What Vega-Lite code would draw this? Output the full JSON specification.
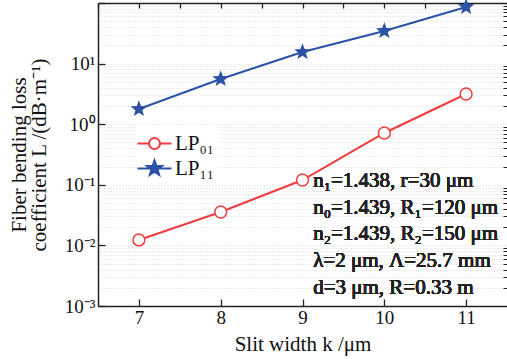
{
  "$schema": "https://vega.github.io/schema/vega-lite/v6.json",
  "width": 409,
  "height": 303,
  "autosize": "none",
  "padding": {"left": 98, "top": 3, "right": 0, "bottom": 53},
  "background": "white",
  "data": {
    "values": [
      {"k": 7, "L": 0.0123, "mode": "LP₀₁"},
      {"k": 8, "L": 0.0356, "mode": "LP₀₁"},
      {"k": 9, "L": 0.12, "mode": "LP₀₁"},
      {"k": 10, "L": 0.716, "mode": "LP₀₁"},
      {"k": 11, "L": 3.15, "mode": "LP₀₁"},
      {"k": 7, "L": 1.78, "mode": "LP₁₁"},
      {"k": 8, "L": 5.57, "mode": "LP₁₁"},
      {"k": 9, "L": 15.5, "mode": "LP₁₁"},
      {"k": 10, "L": 34.5, "mode": "LP₁₁"},
      {"k": 11, "L": 86, "mode": "LP₁₁"}
    ]
  },
  "layer": [
    {
      "mark": {"type": "line", "strokeWidth": 2},
      "encoding": {
        "x": {
          "field": "k", "type": "quantitative",
          "scale": {"domain": [6.5, 11.5], "nice": false, "zero": false},
          "axis": {
            "values": [7, 8, 9, 10, 11],
            "tickSize": -7, "tickWidth": 1.3, "labelPadding": 9, "labelFontSize": 19,
            "title": "Slit width k /μm", "titleFontSize": 21, "titleFontWeight": "normal",
            "titlePadding": 6, "grid": false, "domainWidth": 1.5, "labelFlush": false
          }
        },
        "y": {
          "field": "L", "type": "quantitative",
          "scale": {"type": "log", "domain": [0.001, 100], "nice": false},
          "axis": {
            "values": [0.001, 0.01, 0.1, 1, 10, 100],
            "labelExpr": "datum.value > 50 ? '' : datum.value > 5 ? '10¹' : datum.value > 0.5 ? '10⁰' : datum.value > 0.05 ? '10⁻¹' : datum.value > 0.005 ? '10⁻²' : '10⁻³'",
            "tickSize": -7, "tickWidth": 1.3, "labelPadding": 10, "labelFontSize": 19,
            "labelOverlap": false,
            "title": ["Fiber bending loss", "coefficient L /(dB·m⁻¹)"],
            "titleFontSize": 21, "titleFontWeight": "normal", "titleLineHeight": 20,
            "titlePadding": 15,
            "grid": true, "domainWidth": 1.5
          }
        },
        "color": {
          "field": "mode", "type": "nominal",
          "scale": {"domain": ["LP₀₁", "LP₁₁"], "range": ["#f03c3c", "#2b52a6"]},
          "legend": {
            "orient": "none", "legendX": 38, "legendY": 122,
            "title": null, "fillColor": "white", "padding": 4,
            "labelFont": "Liberation Serif", "labelFontSize": 21, "labelColor": "#111",
            "labelOffset": 6, "rowPadding": 0,
            "symbolSize": 729, "symbolStrokeWidth": 2,
            "encode": {
              "symbols": {
                "update": {
                  "shape": {"signal": "datum.value === 'LP₀₁' ? 'M-1.26,0H-0.41M0.41,0H1.26M0.41,0A0.41,0.41,0,1,1,-0.41,0A0.41,0.41,0,1,1,0.41,0Z' : 'M-1.26,0H1.26M0,-0.59L0.141,-0.194L0.561,-0.182L0.228,0.074L0.347,0.477L0,0.24L-0.347,0.477L-0.228,0.074L-0.561,-0.182L-0.141,-0.194Z'"},
                  "fill": {"signal": "datum.value === 'LP₀₁' ? 'white' : '#2b52a6'"},
                  "fillOpacity": {"value": 1},
                  "stroke": {"signal": "datum.value === 'LP₀₁' ? '#f03c3c' : '#2b52a6'"}
                }
              }
            }
          }
        }
      }
    },
    {
      "transform": [{"filter": "datum.mode === 'LP₀₁'"}],
      "mark": {"type": "point", "shape": "circle", "size": 140, "filled": true, "fill": "white", "stroke": "#f03c3c", "strokeWidth": 1.5, "opacity": 1},
      "encoding": {
        "x": {
          "field": "k", "type": "quantitative",
          "axis": {
            "orient": "top", "values": [6.5, 7, 7.5, 8, 8.5, 9, 9.5, 10, 10.5, 11, 11.5],
            "labels": false, "tickSize": -5, "tickWidth": 1.3, "title": null, "grid": false, "domainWidth": 1.5
          }
        },
        "y": {
          "field": "L", "type": "quantitative",
          "axis": {
            "values": [0.002, 0.003, 0.004, 0.005, 0.006, 0.007, 0.008, 0.009,
                       0.02, 0.03, 0.04, 0.05, 0.06, 0.07, 0.08, 0.09,
                       0.2, 0.3, 0.4, 0.5, 0.6, 0.7, 0.8, 0.9,
                       2, 3, 4, 5, 6, 7, 8, 9,
                       20, 30, 40, 50, 60, 70, 80, 90],
            "labels": false, "tickSize": -4, "tickWidth": 1, "title": null, "domain": false, "grid": true
          }
        }
      }
    },
    {
      "transform": [{"filter": "datum.mode === 'LP₁₁'"}],
      "mark": {"type": "point", "shape": "M0,-1L0.25,-0.345L0.951,-0.309L0.404,0.131L0.588,0.809L0,0.425L-0.588,0.809L-0.404,0.131L-0.951,-0.309L-0.25,-0.345Z", "size": 300, "filled": true, "color": "#2b52a6", "opacity": 1},
      "encoding": {
        "x": {"field": "k", "type": "quantitative", "axis": null},
        "y": {"field": "L", "type": "quantitative", "axis": null}
      }
    },
    {
      "mark": {"type": "text", "align": "left", "baseline": "top", "font": "Liberation Serif", "fontWeight": 400, "fontSize": 21, "lineHeight": 26.7, "color": "#222"},
      "encoding": {
        "x": {"datum": 9.13, "type": "quantitative", "axis": null},
        "y": {"datum": 0.175, "type": "quantitative", "axis": null},
        "text": {"value": ["n₁=1.438, r=30 μm", "n₀=1.439, R₁=120 μm", "n₂=1.439, R₂=150 μm", "λ=2 μm, Λ=25.7 mm", "d=3 μm, R=0.33 m"]}
      }
    }
  ],
  "resolve": {"axis": {"x": "independent", "y": "independent"}},
  "config": {
    "view": {"stroke": null},
    "font": "Liberation Serif",
    "axis": {
      "labelFont": "Liberation Serif", "titleFont": "Liberation Serif",
      "domainColor": "#222", "tickColor": "#222", "labelColor": "#111", "titleColor": "#111",
      "gridColor": "#bbbbbb", "gridDash": [1, 2], "gridWidth": 0.8, "gridOpacity": 0.7
    }
  }
}
